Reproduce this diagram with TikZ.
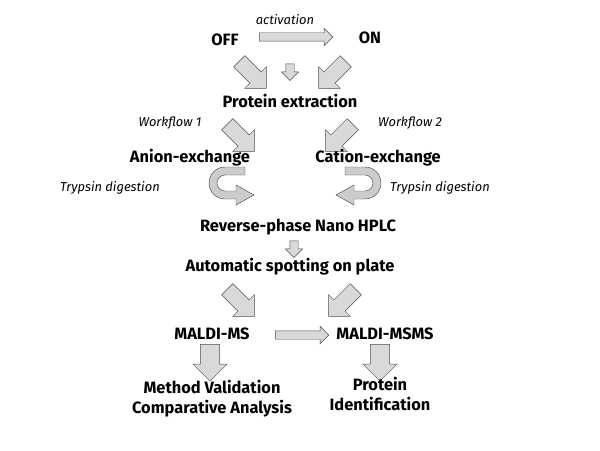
\documentclass[tikz,border=0pt]{standalone}
\usepackage{fontspec}
\setmainfont{Fira Sans}
\usepackage{tikz}
\usetikzlibrary{shapes.arrows}
\usetikzlibrary{positioning}

\begin{document}
\begin{tikzpicture}
  [
    x=0.03cm,y=-0.03cm,
    lbl/.style={font=\fontsize{14}{17}\selectfont\bfseries},
    note/.style={font=\fontsize{11}{13}\selectfont\itshape},
    blk/.style={
      single arrow,
      draw=black!70,
      fill=black!15,
      inner xsep=0pt,
      inner ysep=0.12cm,
      minimum height=0.5cm,
      single arrow head extend=0.13cm
    },
    big/.style={
      blk,
      inner ysep=0.23cm,
      minimum height=1.15cm,
      single arrow head extend=0.22cm
    },
    down/.style={
      blk,
      rotate=-90,
      inner ysep=0.28cm,
      minimum height=1.1cm,
      single arrow head extend=0.22cm
    },
    curl/.style={
      draw=black!70,
      fill=black!20
    }
  ]
    \useasboundingbox (0,0) rectangle (600,450);
    % states
    \node [lbl] (off) at (225,40) {OFF};
    \node [lbl] (on) at (370,38) {ON};
    \node [blk,minimum height=2.2cm] (act) at (294,37) {};
    \node [note] (actl) at (285,20) {activation};
    % into extraction
    \node [big,rotate=-45] (a1) at (250,72) {};
    \node [blk,rotate=-90] (a2) at (290,70) {};
    \node [big,rotate=-135] (a3) at (335,72) {};
    \node [lbl] (prot) at (290,101) {Protein extraction};
    % workflows
    \node [note] (wf1) at (170,123) {Workflow 1};
    \node [note] (wf2) at (410,123) {Workflow 2};
    \node [big,rotate=-45] (a4) at (238,135) {};
    \node [big,rotate=-135] (a5) at (342,135) {};
    \node [lbl] (anion) at (190,158) {Anion-exchange};
    \node [lbl] (cation) at (378,158) {Cation-exchange};
    % digestion
    \draw [curl] (245,167) -- (225,167) arc [start angle=270,end angle=90,radius=16]
      -- (236,199) -- (236,205) -- (254,195) -- (236,185) -- (236,191) -- (225,191)
      arc [start angle=90,end angle=270,radius=8] -- (245,175) -- cycle;
    \draw [curl] (345,167) -- (365,167) arc [start angle=270,end angle=450,radius=16]
      -- (354,199) -- (354,205) -- (336,195) -- (354,185) -- (354,191) -- (365,191)
      arc [start angle=90,end angle=-90,radius=8] -- (345,175) -- cycle;
    \node [note] (tr1) at (110,188) {Trypsin digestion};
    \node [note] (tr2) at (440,188) {Trypsin digestion};
    % separation and spotting
    \node [lbl] (hplc) at (298,227) {Reverse-phase Nano HPLC};
    \node [blk,rotate=-90] (a6) at (294,247) {};
    \node [lbl] (spot) at (290,267) {Automatic spotting on plate};
    \node [big,rotate=-45] (a7) at (238,300) {};
    \node [big,rotate=-135] (a8) at (345,300) {};
    % analysis
    \node [lbl] (ms) at (212,334) {MALDI-MS};
    \node [lbl] (msms) at (385,334) {MALDI-MSMS};
    \node [blk,minimum height=1.6cm] (a9) at (300,335) {};
    \node [down] (a10) at (210,358) {};
    \node [down] (a11) at (380,358) {};
    \node [lbl,align=center] (valid) at (212,399) {Method Validation\\Comparative Analysis};
    \node [lbl,align=center] (ident) at (380,394) {Protein\\Identification};
\end{tikzpicture}
\end{document}
